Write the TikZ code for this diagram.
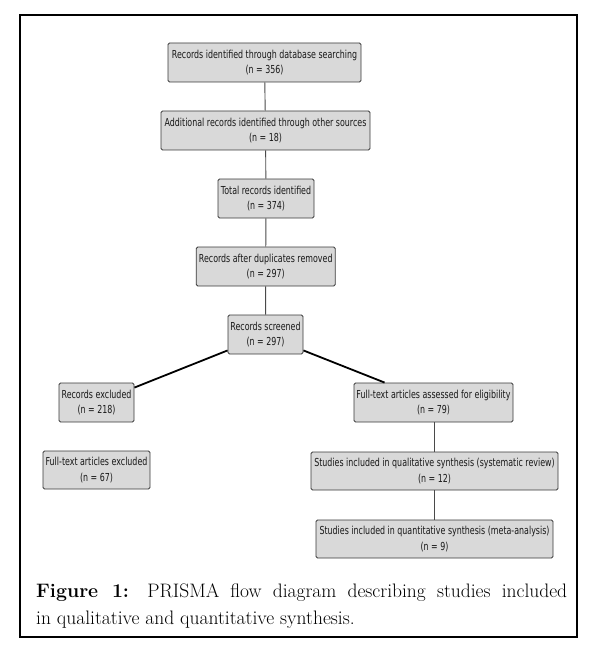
\documentclass[tikz,border=0pt]{standalone}
\usepackage{fontspec}
\usetikzlibrary{calc}
\newfontfamily\boxfont[FakeStretch=0.72]{DejaVu Sans}
\definecolor{boxfill}{HTML}{D9D9D9}
\definecolor{boxline}{HTML}{3A3A3A}
\definecolor{linkgray}{HTML}{4A4A4A}
\tikzset{
  prisma/.style={draw=boxline, fill=boxfill, line width=0.9pt, rounded corners=1.5pt,
    inner sep=0pt, align=center, text=black!90,
    font=\boxfont\fontsize{11}{15.5}\selectfont},
  vlink/.style={draw=linkgray, line width=0.9pt},
  dlink/.style={draw=black, line width=1.8pt},
  frame/.style={draw=black, line width=2pt},
}
\begin{document}
\begin{tikzpicture}[x=1pt,y=-1pt]
\useasboundingbox (0,0) rectangle (592,647);
\draw[frame] (20,15) rectangle (577,637);

\node[prisma, minimum width=193pt, minimum height=39pt] (db) at (264.5,62.5)
  {Records identified through database searching\\(n = 356)};
\node[prisma, minimum width=209pt, minimum height=39pt] (add) at (265.5,130.5)
  {Additional records identified through other sources\\(n = 18)};
\node[prisma, minimum width=96pt, minimum height=39pt] (tot) at (266,198.5)
  {Total records identified\\(n = 374)};
\node[prisma, minimum width=139pt, minimum height=39pt] (dup) at (265.7,266.5)
  {Records after duplicates removed\\(n = 297)};
\node[prisma, minimum width=75pt, minimum height=39pt] (scr) at (265.5,334.5)
  {Records screened\\(n = 297)};
\node[prisma, minimum width=75pt, minimum height=39pt] (exc) at (96.5,402.5)
  {Records excluded\\(n = 218)};
\node[prisma, minimum width=159pt, minimum height=39pt] (ass) at (433.5,402.5)
  {Full-text articles assessed for eligibility\\(n = 79)};
\node[prisma, minimum width=107pt, minimum height=38pt] (ftx) at (96.5,470)
  {Full-text articles excluded\\(n = 67)};
\node[prisma, minimum width=247pt, minimum height=38pt] (qual) at (434.5,471)
  {Studies included in qualitative synthesis (systematic review)\\(n = 12)};
\node[prisma, minimum width=237pt, minimum height=38pt] (quan) at (434.5,539)
  {Studies included in quantitative synthesis (meta-analysis)\\(n = 9)};

\draw[vlink] (db) -- (add);
\draw[vlink] (add) -- (tot);
\draw[vlink] (tot) -- (dup);
\draw[vlink] (dup) -- (scr);
\draw[vlink] (ass.south -| qual.north) -- (qual.north);
\draw[vlink] (qual) -- (quan);

\coordinate (sl) at ($(scr.south west)+(0,-4)$);
\coordinate (sr) at ($(scr.south east)+(0,-4)$);
\coordinate (el) at ($(exc.north east)+(0,5)$);
\coordinate (ar) at ($(ass.north west)+(31,0)$);
\draw[dlink] (sl) -- (el);
\draw[dlink] (sr) -- (ar);

\node[anchor=base west, inner sep=0pt, font=\fontsize{19.5}{27}\selectfont] (cap1) at (36,597.7)
  {\makebox[531pt][s]{\textbf{Figure 1:} PRISMA flow diagram describing studies included}};
\node[anchor=base west, inner sep=0pt, font=\fontsize{19.5}{27}\selectfont] (cap2) at (36,624.7)
  {in qualitative and quantitative synthesis.};
\end{tikzpicture}
\end{document}
